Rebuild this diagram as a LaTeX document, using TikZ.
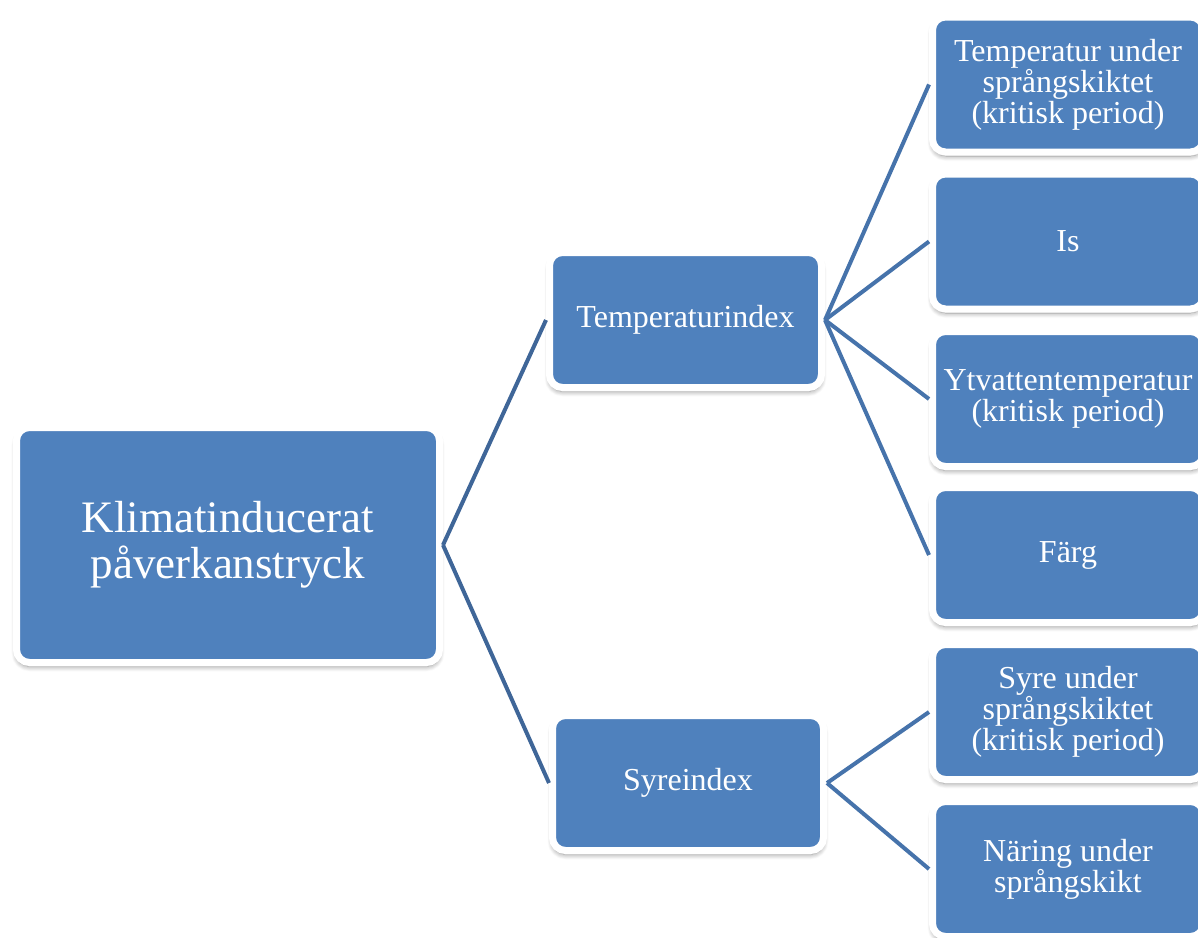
\documentclass[tikz,border=0pt]{standalone}
\usepackage{fontspec}
\setmainfont{Liberation Serif}
\usetikzlibrary{shadows.blur}
\definecolor{boxblue}{HTML}{4F81BD}
\definecolor{linkblue}{HTML}{4673AB}
\definecolor{rootlink}{HTML}{3F6698}
\tikzset{
  box/.style={rectangle, rounded corners=13pt, fill=boxblue, draw=white, line width=7pt,
    text=white, align=center, inner sep=0pt,
    blur shadow={shadow xshift=0pt, shadow yshift=-4pt, shadow blur radius=5pt,
      shadow blur steps=8, shadow opacity=45}},
  smallbox/.style={box, minimum width=271pt, minimum height=135pt,
    font=\fontsize{32}{31}\selectfont},
  link/.style={draw=linkblue, line width=4pt},
  rlink/.style={draw=rootlink, line width=4pt}
}
\begin{document}
\begin{tikzpicture}[x=1pt,y=-1pt]
\useasboundingbox (0,0) rectangle (1198,937);
\node[box, minimum width=423pt, minimum height=235pt, font=\fontsize{45}{46}\selectfont] (root) at (228,545) {Klimatinducerat\\påverkanstryck};
\node[smallbox, minimum width=272pt] (temp) at (685.5,320) {Temperaturindex};
\node[smallbox] (syre) at (688,783) {Syreindex};
\node[smallbox] (t1) at (1068,84.5) {Temperatur under\\språngskiktet\\(kritisk period)};
\node[smallbox] (t2) at (1068,241.5) {Is};
\node[smallbox] (t3) at (1068,399) {Ytvattentemperatur\\(kritisk period)};
\node[smallbox] (t4) at (1068,555) {Färg};
\node[smallbox] (s1) at (1068,712) {Syre under\\språngskiktet\\(kritisk period)};
\node[smallbox] (s2) at (1068,869) {Näring under\\språngskikt};
\draw[rlink] (root.east) -- (temp.west);
\draw[rlink] (root.east) -- (syre.west);
\foreach \n in {t1,t2,t3,t4} \draw[link] (temp.east) -- (\n.west);
\foreach \n in {s1,s2} \draw[link] (syre.east) -- (\n.west);
\end{tikzpicture}
\end{document}
